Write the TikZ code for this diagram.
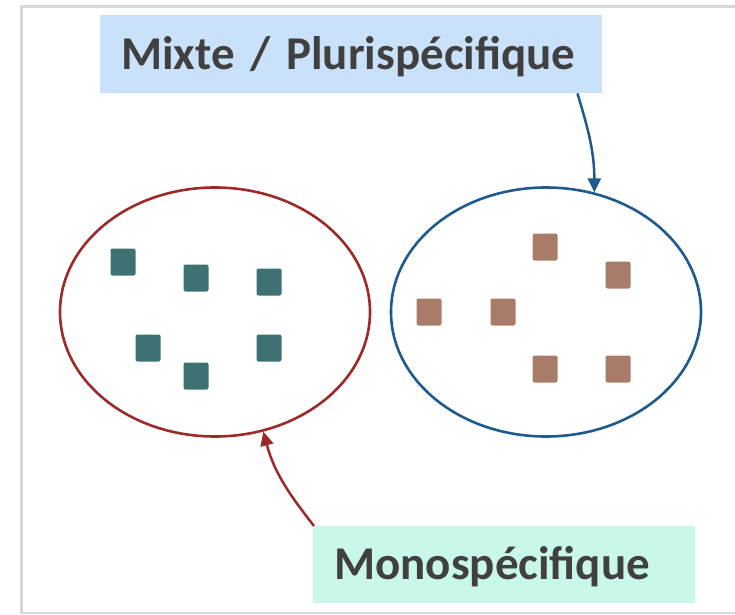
\documentclass[tikz,border=0pt]{standalone}
\usepackage{fontspec}
\setmainfont{Carlito}
\usetikzlibrary{shapes.geometric,arrows.meta}
\definecolor{framegray}{HTML}{D8D8D8}
\definecolor{txtgray}{HTML}{404040}
\definecolor{bluebox}{HTML}{C9E2F9}
\definecolor{greenbox}{HTML}{C9F8EA}
\definecolor{darkred}{HTML}{9C2A2A}
\definecolor{darkblue}{HTML}{1F5A8E}
\definecolor{teal}{HTML}{3E7272}
\definecolor{brown}{HTML}{A97C69}
\tikzset{
  label box/.style={fill=#1, draw=none, align=left, inner xsep=21pt, inner ysep=0pt,
    minimum height=78pt, text height=30.5pt, text depth=0pt, text=txtgray,
    font=\fontsize{47}{50}\selectfont\bfseries, anchor=north west},
  group/.style={ellipse, draw=#1, line width=2.6pt, minimum width=310pt, minimum height=249pt, inner sep=0pt},
  sq/.style={fill=#1, draw=none, rounded corners=2pt, minimum width=25pt, minimum height=27pt, inner sep=0pt},
  conn/.style={draw=#1, line width=2.5pt, -{Triangle[length=14pt,width=13pt]}},
  frameline/.style={draw=framegray, line width=3pt}
}
\begin{document}
\begin{tikzpicture}[x=1pt,y=1pt]
\useasboundingbox (0,0) rectangle (735,614);
% frame
\coordinate (ftl) at (21,607);
\coordinate (ftr) at (735,607);
\coordinate (fbl) at (21,0);
\coordinate (fbr) at (735,1);
\draw[frameline] (ftr) -- (ftl) -- (fbl);
\draw[framegray, line width=1.5pt] (21,1) -- (fbr);
% labels
\node[label box=bluebox, text width=460pt] (mixte) at (100,599) {Mixte / Plurispécifique};
\node[label box=greenbox, text width=340pt, minimum height=77pt] (mono) at (313,88) {Monospécifique};
% groups
\node[group=darkred] (L) at (215,302) {};
\node[group=darkblue] (R) at (546,302) {};
% teal squares
\node[sq=teal] (t1) at (123,352) {};
\node[sq=teal] (t2) at (196,336) {};
\node[sq=teal] (t3) at (269,332) {};
\node[sq=teal] (t4) at (148,266) {};
\node[sq=teal] (t5) at (269,266) {};
\node[sq=teal] (t6) at (196,238) {};
% brown squares
\node[sq=brown] (b1) at (545,367) {};
\node[sq=brown] (b2) at (618,339) {};
\node[sq=brown] (b3) at (429,302) {};
\node[sq=brown] (b4) at (503,302) {};
\node[sq=brown] (b5) at (545,245) {};
\node[sq=brown] (b6) at (618,245) {};
% connectors
\draw[conn=darkblue] ([xshift=-25pt]mixte.south east) to[out=-73, in=90] (R.68);
\draw[conn=darkred] ([xshift=1pt]mono.north west) to[out=128, in=-75] (L.-68);
\end{tikzpicture}
\end{document}
